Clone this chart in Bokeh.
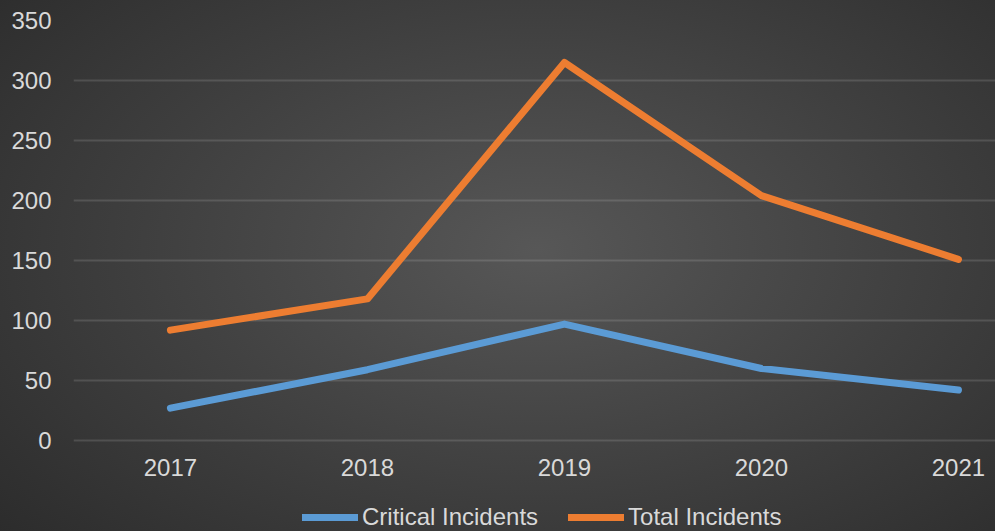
from bokeh.plotting import figure
from bokeh.models import Range1d, FixedTicker, Legend, LegendItem, CustomJSTickFormatter
from bokeh.embed import file_html
from bokeh.resources import INLINE

years = [2017, 2018, 2019, 2020, 2021]
critical = [27, 59, 97, 60, 42]
total = [92, 118, 315, 204, 151]
y_ticks = [0, 50, 100, 150, 200, 250, 300, 350]

FONT = "Liberation Sans"
TXT = "#d9d9d9"
FS = "24px"

p = figure(width=995, height=531, output_backend="svg", toolbar_location=None,
           x_range=Range1d(2016.508, 2021.188), y_range=Range1d(350 - 511 / 1.2, 350),
           min_border_left=73, min_border_right=0, min_border_top=20, min_border_bottom=0)
p.background_fill_color = None
p.border_fill_color = None
p.outline_line_color = None
p.styles = {"background": "radial-gradient(ellipse 75% 85% at 54% 47%, #575757 0%, #3e3e3e 55%, #2a2a2a 100%)"}

p.xgrid.visible = False
p.ygrid.ticker = FixedTicker(ticks=y_ticks)
p.ygrid.grid_line_color = "white"
p.ygrid.grid_line_alpha = 0.13
p.ygrid.grid_line_width = 2

for ax in (p.xaxis[0], p.yaxis[0]):
    ax.axis_line_color = None
    ax.major_tick_line_color = None
    ax.minor_tick_line_color = None
    ax.major_tick_out = 0
    ax.major_tick_in = 0
    ax.minor_tick_out = 0
    ax.minor_tick_in = 0
    ax.major_label_text_font = FONT
    ax.major_label_text_font_size = FS
    ax.major_label_text_color = TXT

p.xaxis.ticker = FixedTicker(ticks=years)
p.xaxis.formatter = CustomJSTickFormatter(code="return tick.toFixed(0);")
p.xaxis.major_label_standoff = 18
p.xaxis.fixed_location = 0
p.yaxis.ticker = FixedTicker(ticks=y_ticks)
p.yaxis.major_label_standoff = 22

r1 = p.line(years, critical, line_color="#5B9BD5", line_width=7, line_cap="round", line_join="round")
r2 = p.line(years, total, line_color="#ED7D31", line_width=7, line_cap="round", line_join="round")

legend = Legend(items=[LegendItem(label="Critical Incidents", renderers=[r1]),
                       LegendItem(label="Total Incidents", renderers=[r2])],
                orientation="horizontal", location=(229, 0))
legend.background_fill_alpha = 0
legend.border_line_color = None
legend.padding = 0
legend.margin = 0
legend.spacing = 30
legend.glyph_width = 56
legend.label_standoff = 4
legend.label_text_font = FONT
legend.label_text_font_size = FS
legend.label_text_color = TXT
p.add_layout(legend, "center")

open("out.html", "w").write(file_html(p, INLINE))
